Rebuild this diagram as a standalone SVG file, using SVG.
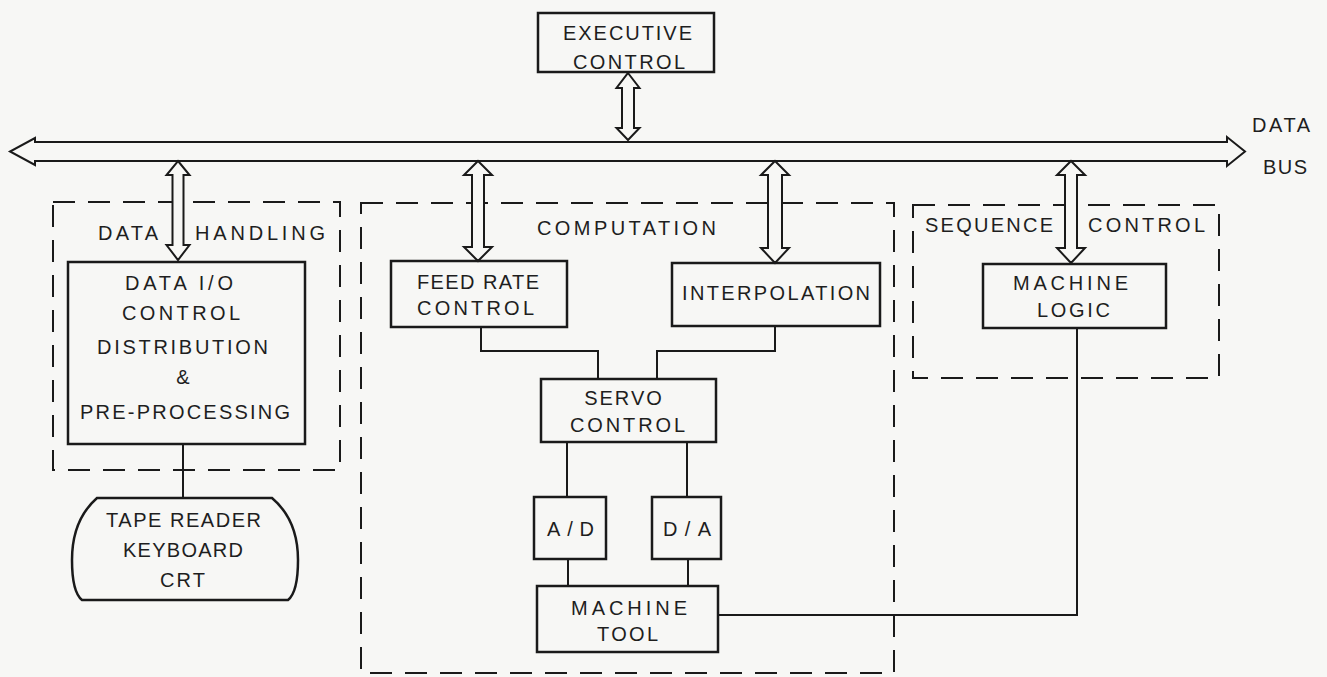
<svg xmlns="http://www.w3.org/2000/svg" width="1327" height="677" viewBox="0 0 1327 677">
<style>
  .box { fill: none; stroke: #1a1a1a; stroke-width: 2.5; }
  .grp { fill: none; stroke: #1a1a1a; stroke-width: 2; stroke-dasharray: 22 13; }
  .ln { fill: none; stroke: #1a1a1a; stroke-width: 2; }
  .dbl { fill: #f7f7f5; stroke: #1a1a1a; stroke-width: 2; stroke-linejoin: miter; }
  text { font-family: "Liberation Sans", Arial, sans-serif; font-size: 20px; fill: #1e1e1e; }
</style>
<rect x="0" y="0" width="1327" height="677" fill="#f7f7f5"/>

<g id="group-data-handling">
  <rect class="grp" x="53" y="202" width="287" height="268"/>
  <text x="98" y="240" textLength="60" lengthAdjust="spacing">DATA</text>
  <text x="195" y="240" textLength="130" lengthAdjust="spacing">HANDLING</text>
</g>
<g id="group-computation">
  <rect class="grp" x="361" y="203" width="533" height="470"/>
  <text x="537" y="235" textLength="179" lengthAdjust="spacing">COMPUTATION</text>
</g>
<g id="group-sequence-control">
  <rect class="grp" x="913" y="205" width="306" height="173"/>
  <text x="925" y="232" textLength="128" lengthAdjust="spacing">SEQUENCE</text>
  <text x="1088" y="232" textLength="117" lengthAdjust="spacing">CONTROL</text>
</g>

<g id="connectors">
  <polyline class="ln" points="183,444 183,498"/>
  <polyline class="ln" points="481,327 481,351 598,351 598,379"/>
  <polyline class="ln" points="775,326 775,351 657,351 657,379"/>
  <polyline class="ln" points="567,442 567,497"/>
  <polyline class="ln" points="687,442 687,497"/>
  <polyline class="ln" points="568,559 568,586"/>
  <polyline class="ln" points="688,559 688,586"/>
  <polyline class="ln" points="718,615 1077,615 1077,328"/>
</g>

<g id="data-bus">
  <path class="dbl" d="M35,142 H1227 V137 L1245,151.5 L1227,166 V161 H35 V165 L10,151.5 L35,138 Z"/>
  <text x="1252" y="132" textLength="58" lengthAdjust="spacing">DATA</text>
  <text x="1263" y="174" textLength="44" lengthAdjust="spacing">BUS</text>
</g>

<g id="bus-links">
  <polygon class="dbl" points="628,73 639.5,88 634,88 634,128 639.5,128 628,140 616.5,128 622,128 622,88 616.5,88"/>
  <polygon class="dbl" points="178,161 189.5,175 183.5,175 183.5,245 189.5,245 178,260 166.5,245 172.5,245 172.5,175 166.5,175"/>
  <polygon class="dbl" points="478,161 492,175 484,175 484,247 492,247 478,261 464,247 472,247 472,175 464,175"/>
  <polygon class="dbl" points="775,161 789,175 782,175 782,248 789,248 775,263 761,248 768,248 768,175 761,175"/>
  <polygon class="dbl" points="1071,161 1085,175 1077,175 1077,248 1085,248 1071,263 1057,248 1065,248 1065,175 1057,175"/>
</g>

<g id="executive-control">
  <rect class="box" x="538" y="13" width="176" height="59"/>
  <text x="563" y="40" textLength="129" lengthAdjust="spacing">EXECUTIVE</text>
  <text x="573" y="69" textLength="112" lengthAdjust="spacing">CONTROL</text>
</g>

<g id="data-io">
  <rect class="box" x="68" y="262" width="237" height="182"/>
  <text x="125" y="290" textLength="108" lengthAdjust="spacing">DATA I/O</text>
  <text x="122" y="320" textLength="118" lengthAdjust="spacing">CONTROL</text>
  <text x="97" y="354" textLength="171" lengthAdjust="spacing">DISTRIBUTION</text>
  <text x="183" y="384" text-anchor="middle">&amp;</text>
  <text x="80" y="419" textLength="210" lengthAdjust="spacing">PRE-PROCESSING</text>
</g>

<g id="tape-reader">
  <path class="box" d="M97,498 H272 Q298,520 298,560 Q298,592 288,600 H82 Q72,592 72,560 Q72,520 97,498 Z"/>
  <text x="106" y="527" textLength="155" lengthAdjust="spacing">TAPE READER</text>
  <text x="123" y="557" textLength="120" lengthAdjust="spacing">KEYBOARD</text>
  <text x="160" y="587" textLength="45" lengthAdjust="spacing">CRT</text>
</g>

<g id="feed-rate-control">
  <rect class="box" x="391" y="261" width="176" height="66"/>
  <text x="417" y="289" textLength="122" lengthAdjust="spacing">FEED RATE</text>
  <text x="417" y="315" textLength="117" lengthAdjust="spacing">CONTROL</text>
</g>

<g id="interpolation">
  <rect class="box" x="672" y="263" width="208" height="63"/>
  <text x="682" y="300" textLength="188" lengthAdjust="spacing">INTERPOLATION</text>
</g>

<g id="servo-control">
  <rect class="box" x="541" y="379" width="175" height="63"/>
  <text x="624" y="405" text-anchor="middle" letter-spacing="2">SERVO</text>
  <text x="570" y="432" textLength="115" lengthAdjust="spacing">CONTROL</text>
</g>

<g id="a-d">
  <rect class="box" x="534" y="497" width="72" height="62"/>
  <text x="547" y="536" textLength="47" lengthAdjust="spacing">A/D</text>
</g>

<g id="d-a">
  <rect class="box" x="652" y="497" width="69" height="62"/>
  <text x="663" y="536" textLength="48" lengthAdjust="spacing">D/A</text>
</g>

<g id="machine-tool">
  <rect class="box" x="537" y="586" width="181" height="66"/>
  <text x="571" y="615" textLength="116" lengthAdjust="spacing">MACHINE</text>
  <text x="597" y="641" textLength="61" lengthAdjust="spacing">TOOL</text>
</g>

<g id="machine-logic">
  <rect class="box" x="983" y="264" width="183" height="64"/>
  <text x="1013" y="290" textLength="115" lengthAdjust="spacing">MACHINE</text>
  <text x="1037" y="317" textLength="73" lengthAdjust="spacing">LOGIC</text>
</g>
</svg>
